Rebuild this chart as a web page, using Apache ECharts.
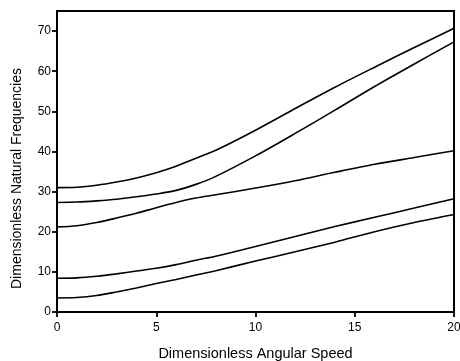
<!DOCTYPE html>
<html>
<head>
<meta charset="utf-8">
<script src="https://cdn.jsdelivr.net/npm/echarts@6/dist/echarts.min.js"></script>
<style>
  html, body { margin: 0; padding: 0; background: #fff; }
  #chart { width: 460px; height: 361px; }
</style>
</head>
<body>
<div id="chart"></div>
<script>
// angular speed samples shared by all curves
const speeds = [0, 1, 2, 3, 4, 5, 6, 7, 8, 10, 12, 14, 16, 18, 20]

const mode1 = [3.5, 3.6, 4.1, 5.0, 6.0, 7.1, 8.1, 9.2, 10.3, 12.7, 15.0, 17.4, 20.0, 22.3, 24.3]
const mode2 = [8.4, 8.5, 8.9, 9.5, 10.2, 10.9, 11.8, 12.9, 13.9, 16.3, 18.8, 21.3, 23.6, 25.9, 28.2]
const mode3 = [21.2, 21.5, 22.3, 23.4, 24.6, 26.0, 27.3, 28.4, 29.2, 30.9, 32.7, 34.8, 36.8, 38.5, 40.2]
const mode4 = [27.3, 27.4, 27.7, 28.1, 28.7, 29.4, 30.3, 31.8, 33.8, 38.9, 44.5, 50.3, 56.2, 61.8, 67.3]
const mode5 = [31.0, 31.1, 31.6, 32.4, 33.4, 34.7, 36.3, 38.3, 40.3, 45.3, 50.7, 56.0, 61.0, 65.9, 70.7]

const modes = [mode1, mode2, mode3, mode4, mode5]

const chart = echarts.init(document.getElementById('chart'))

const fontFamily = 'Liberation Sans, Arial, sans-serif'
const labelFont = { color: '#000', fontSize: 12, fontFamily }

chart.setOption({
  animation: false,
  grid: {
    left: 57, right: 6, top: 11, bottom: 49,
    outerBoundsMode: 'none',
    show: true, borderColor: '#000', borderWidth: 2, backgroundColor: 'transparent',
  },
  xAxis: {
    type: 'value',
    min: 0,
    max: 20,
    interval: 5,
    name: 'Dimensionless Angular Speed',
    nameLocation: 'middle',
    nameGap: 34,
    nameTextStyle: { color: '#000', fontSize: 14.5, fontFamily },
    axisLine: { lineStyle: { color: '#000', width: 2 } },
    axisTick: { show: true, inside: false, length: 5, lineStyle: { color: '#000', width: 1.8 } },
    axisLabel: { ...labelFont, margin: 10 },
    splitLine: { show: false },
  },
  yAxis: {
    type: 'value',
    min: 0,
    max: 75,
    interval: 10,
    name: 'Dimensionless Natural Frequencies',
    nameLocation: 'middle',
    nameGap: 33,
    nameTextStyle: { color: '#000', fontSize: 14, fontFamily, padding: [0, 34, 0, 0] },
    axisLine: { lineStyle: { color: '#000', width: 2 } },
    axisTick: { show: true, inside: false, length: 5, lineStyle: { color: '#000', width: 1.8 } },
    axisLabel: { ...labelFont, margin: 6, showMaxLabel: false },
    splitLine: { show: false },
  },
  series: modes.map(values => ({
    type: 'line',
    data: speeds.map((x, i) => [x, values[i]]),
    symbol: 'none',
    smooth: 0.3,
    lineStyle: { color: '#000', width: 1.6 },
  })),
})
</script>
</body>
</html>
